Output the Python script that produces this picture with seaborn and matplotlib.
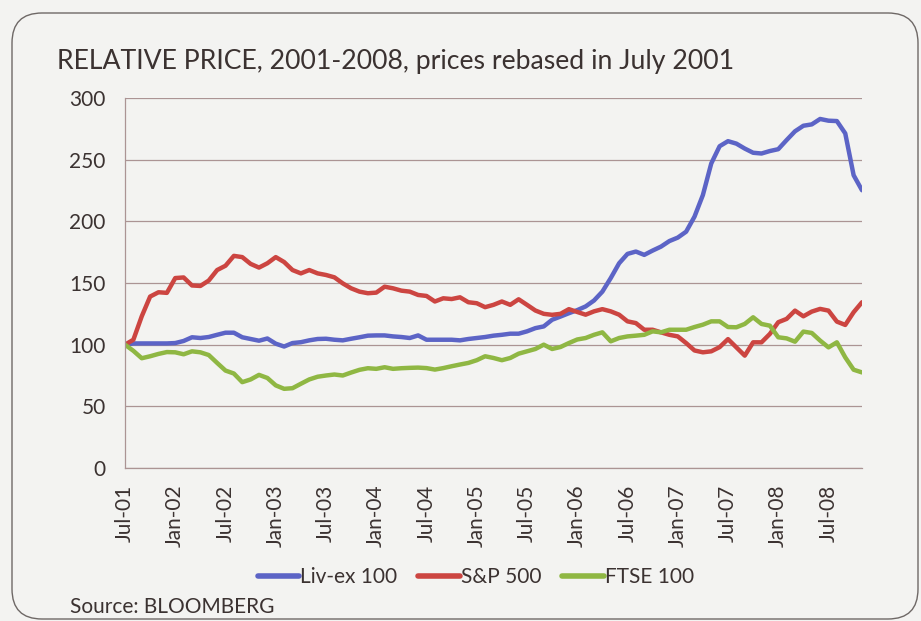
import numpy as np
import pandas as pd
import matplotlib
matplotlib.use("Agg")
import matplotlib.pyplot as plt
import seaborn as sns
from matplotlib.patches import FancyBboxPatch

# ---- data (monthly, Jul-2001 .. Nov-2008, rebased to 100 in July 2001) ----
tick_labels = ["Jul-01", "Jan-02", "Jul-02", "Jan-03", "Jul-03", "Jan-04", "Jul-04",
               "Jan-05", "Jul-05", "Jan-06", "Jul-06", "Jan-07", "Jul-07", "Jan-08", "Jul-08"]
series_names = ["Liv-ex 100", "S&P 500", "FTSE 100"]

livex = [100, 101, 101, 101, 101, 101, 101.3, 103, 106, 105.4, 106.2, 108, 109.7, 109.7,
         106, 104.6, 103.2, 105, 100.8,
         98.5, 101.3, 102, 103.5, 104.6, 104.8, 104, 103.5, 104.8, 106, 107.3, 107.5,
         107.5, 106.7, 106.2, 105.4, 107.5, 104,
         104, 104, 104, 103.5, 104.6, 105.4, 106.2, 107.3, 108, 108.9, 108.9, 110.8,
         113.4, 114.8, 120.2, 122.8, 125.5, 128,
         131, 135.8, 143, 154, 166, 173.6, 175.5, 172.8, 176.3, 179.5, 184, 186.8,
         191.6, 203.8, 221.3, 246.9, 260.9, 265,
         263, 259, 255.6, 255, 257, 258.5, 265.9, 273, 277.5, 278.6, 283, 281.6,
         281.3, 271.3, 237.4, 225.2]

sp500 = [100, 104, 123, 139, 142.5, 142, 154, 154.5, 148, 147.6, 152, 160.5, 164, 172,
         171, 165.5, 162.5, 166, 171,
         167, 160.5, 157.8, 160.5, 157.8, 156.5, 154.6, 149.7, 145.7, 143, 141.7,
         142.2, 147, 145.7, 143.8, 143, 140.3, 139.5,
         135, 137.6, 137, 138.4, 134.4, 133.6, 130.4, 132.3, 135, 132.3, 136.8,
         132.3, 127.7, 125, 124.2, 125, 128.8, 126.5,
         124.3, 127, 128.8, 127, 124.3, 118.9, 117.5, 112.1, 112.1, 110, 108, 106.7,
         101.3, 95.3, 93.8, 94.6, 98, 104.5,
         97.8, 91.1, 101.9, 101.9, 108.7, 118.2, 120.9, 127.6, 123, 126.8, 129,
         127.6, 118.7, 116, 126.3, 134.4]

ftse = [100, 95, 89, 90.6, 92.5, 94, 93.8, 92.2, 94.6, 93.8, 91.6, 85.2, 79, 76.6,
        69.6, 71.8, 75.5, 73, 67,
        64.2, 64.7, 68.3, 71.8, 74, 75, 75.8, 75, 77.4, 79.6, 80.9, 80.4, 81.7, 80.4,
        80.9, 81.2, 81.4, 81,
        79.8, 81, 82.5, 83.9, 85.2, 87.4, 90.6, 89.2, 87.4, 89.2, 92.7, 94.6, 96.5,
        100, 96.5, 98.1, 101.3, 104.2,
        105.4, 108, 110, 102.7, 105.4, 106.7, 107.3, 108, 110.8, 110, 112.1, 112.1,
        112.1, 114.3, 116.2, 118.9, 118.9, 114.3,
        114.1, 116.8, 122.2, 116.8, 115.4, 106, 105.1, 102.4, 110.6, 109.5, 103.3,
        97.8, 101.9, 89.7, 79.7, 77.5]

colors = {"Liv-ex 100": "#5c64c6", "S&P 500": "#cc4541", "FTSE 100": "#8fb743"}

n = len(livex)
month_idx = np.arange(n)
df = pd.DataFrame({
    "month": np.tile(month_idx, 3),
    "value": livex + sp500 + ftse,
    "series": np.repeat(series_names, n),
})

# ---- style ----
bg = "#f3f3f1"
grid_c = "#ab9494"
text_c = "#3b3231"
sns.set_theme(style="white")
plt.rcParams["font.family"] = ["Lato", "DejaVu Sans"]

fig = plt.figure(figsize=(9.21, 6.21), dpi=100, facecolor=bg)
ax = fig.add_axes([125 / 921, 1 - 468 / 621, (862 - 125) / 921, (468 - 98) / 621])
ax.set_facecolor(bg)

sns.lineplot(data=df, x="month", y="value", hue="series", palette=colors,
             hue_order=series_names, linewidth=3.2, ax=ax, legend=True)
for ln in ax.lines:
    ln.set_solid_joinstyle("round")
    ln.set_solid_capstyle("round")

ax.set_xlim(0, n - 1)
ax.set_ylim(0, 300)
ax.set_yticks(np.arange(0, 301, 50))
ax.set_xticks(np.arange(0, n - 1, 6))
ax.set_xticklabels(tick_labels, rotation=90)
ax.set_xlabel("")
ax.set_ylabel("")

ax.yaxis.grid(True, color=grid_c, linewidth=0.9)
ax.set_axisbelow(True)
for s in ["top", "right"]:
    ax.spines[s].set_visible(False)
for s in ["left", "bottom"]:
    ax.spines[s].set_color(grid_c)
    ax.spines[s].set_linewidth(0.9)
ax.tick_params(axis="both", which="major", direction="out", length=7, width=0.9,
               color=grid_c, labelcolor=text_c, labelsize=15)
ax.tick_params(axis="y", pad=7)
ax.tick_params(axis="x", pad=5)

sns.move_legend(ax, "center", bbox_to_anchor=(476 / 921, 1 - 577 / 621),
                bbox_transform=fig.transFigure, ncol=3, frameon=False, title=None,
                handlelength=2.0, handletextpad=0.05, columnspacing=1.0,
                fontsize=15)
for t in ax.get_legend().get_texts():
    t.set_color(text_c)
for h in ax.get_legend().legend_handles:
    h.set_linewidth(4)

fig.text(57 / 921, 1 - 62 / 621, "RELATIVE PRICE, 2001-2008, prices rebased in July 2001",
         fontsize=19.2, color=text_c, va="center", ha="left")
fig.text(70 / 921, 1 - 607 / 621, "Source: BLOOMBERG", fontsize=15, color=text_c,
         va="center", ha="left")

# rounded frame
frame = FancyBboxPatch((0.12 + 0.3, 0.02 + 0.3), 9.06 - 0.6, 6.06 - 0.6,
                       boxstyle="round,pad=0.3", transform=fig.dpi_scale_trans,
                       facecolor="none", edgecolor="#6e6866", linewidth=1.0, zorder=0)
fig.patches.append(frame)

fig.savefig("out.png", dpi=100, facecolor=bg)
